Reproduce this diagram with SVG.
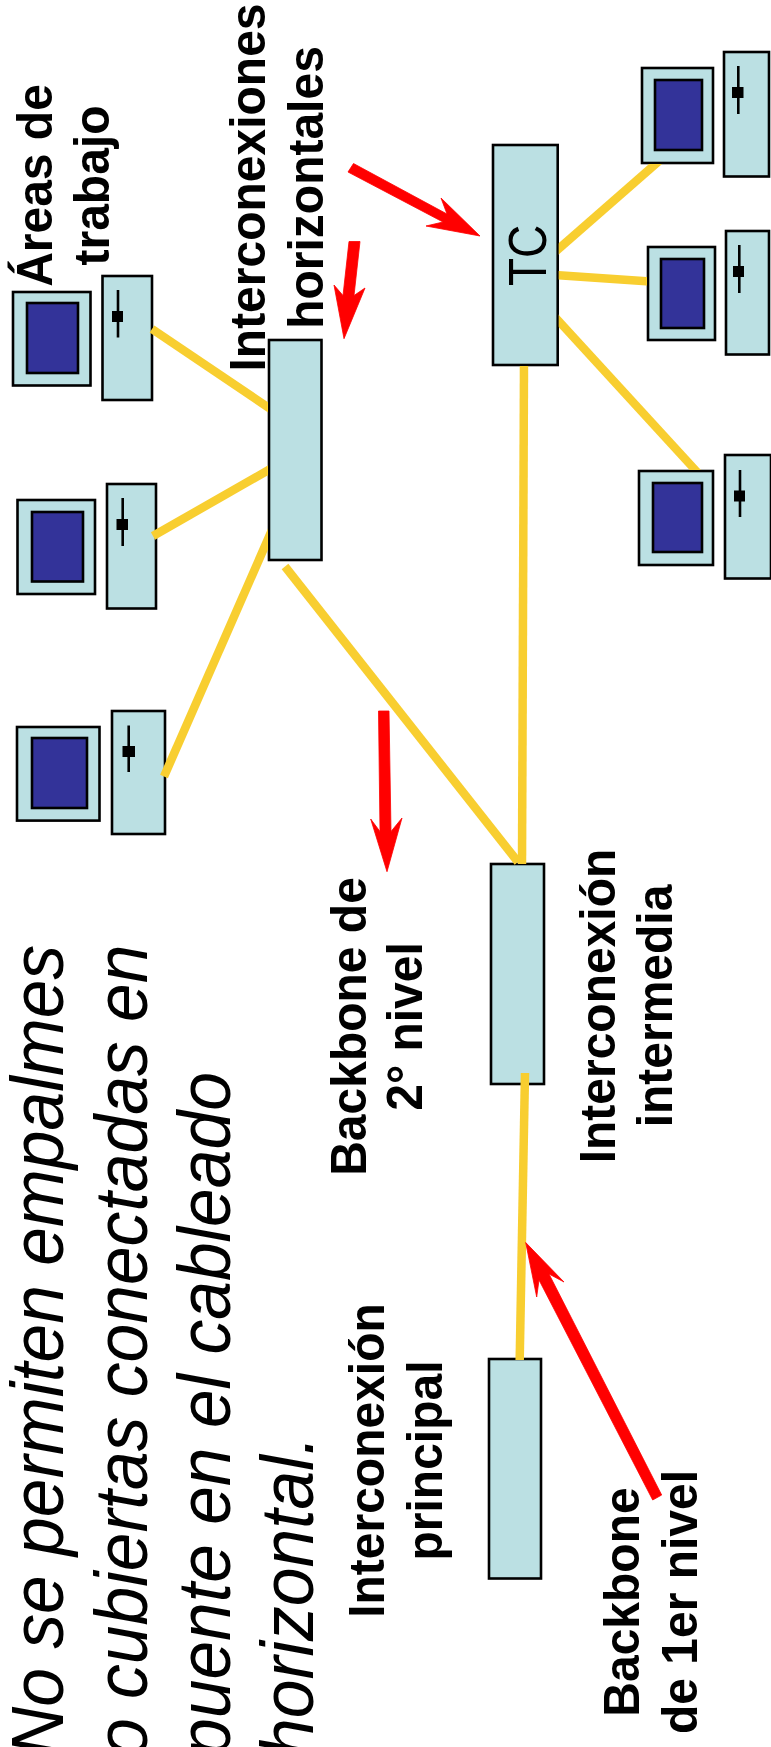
<svg xmlns="http://www.w3.org/2000/svg" width="771" height="1747" viewBox="0 0 771 1747">
<style>
text{font-family:"Liberation Sans",Arial,sans-serif;fill:#000}
.b{font-weight:700;font-size:48px;text-anchor:middle}
.i{font-style:italic;font-size:69.600px}
.n{fill:#bbe0e3;stroke:#000;stroke-width:2.600}
.s{fill:#333399;stroke:#000;stroke-width:2.600}
.w{stroke:#000;stroke-width:2.600}
.c{stroke:#f8ce30;stroke-width:8.500;fill:none}
.a{fill:#ff0000;stroke:#ff0000;stroke-width:0.800}
</style>
<defs>
<clipPath id="outside"><path clip-rule="evenodd" d="M0 0H771V1747H0ZM268 339H322.500V561H268ZM492 144H558.700V366H492ZM641 67H714V164H641ZM647 246H716V341H647ZM638 470H714V566H638Z"/></clipPath>
</defs>
<g id="pc1"><rect class="n" x="13" y="292" width="77.500" height="93.500"/><rect class="s" x="27" y="303" width="51" height="70"/><rect class="n" x="102.500" y="276" width="49.500" height="124"/><path class="w" d="M118 290V337.500"/><rect x="112" y="311" width="11" height="11"/></g>
<g id="pc2"><rect class="n" x="17.500" y="500" width="77.500" height="94"/><rect class="s" x="32" y="512" width="51" height="69.500"/><rect class="n" x="107" y="484" width="49" height="124.500"/><path class="w" d="M122.700 498V546"/><rect x="116.500" y="519" width="11.500" height="11"/></g>
<g id="pc3"><rect class="n" x="17" y="727" width="82.500" height="93.600"/><rect class="s" x="32" y="738" width="55" height="70"/><rect class="n" x="112" y="711" width="53" height="123"/><path class="w" d="M128.700 725.500V772"/><rect x="122.500" y="746" width="12.500" height="11"/></g>
<g id="pc4"><rect class="n" x="642" y="68" width="71" height="95"/><rect class="s" x="655" y="80" width="47" height="70"/><rect class="n" x="724" y="52" width="45" height="124.500"/><path class="w" d="M738.300 66V114"/><rect x="732" y="87" width="11.500" height="11"/></g>
<g id="pc5"><rect class="n" x="648" y="247" width="67" height="93"/><rect class="s" x="661" y="259" width="43" height="69"/><rect class="n" x="726" y="231" width="43" height="123.500"/><path class="w" d="M739.300 245V293"/><rect x="733" y="266" width="11" height="11"/></g>
<g id="pc6"><rect class="n" x="639" y="471" width="74" height="94"/><rect class="s" x="653" y="483" width="49" height="69"/><rect class="n" x="725" y="455" width="46" height="123.500"/><path class="w" d="M740 470V517"/><rect x="734" y="490.500" width="11" height="11"/></g>
<g id="hub-horizontal"><rect class="n" x="269" y="340" width="52.500" height="220"/></g>
<g id="tc"><rect class="n" x="493" y="145" width="64.700" height="220"/><text transform="translate(546 286) rotate(-90) scale(1 1.150)" style="font-size:46px">TC</text></g>
<g id="hub-intermedia"><rect class="n" x="491" y="864" width="53" height="220"/></g>
<g id="hub-principal"><rect class="n" x="489" y="1359" width="52" height="219.500"/></g>
<g id="connectors">
<g clip-path="url(#outside)">
<line class="c" x1="152" y1="329" x2="272" y2="410"/>
<line class="c" x1="153" y1="536" x2="272" y2="468"/>
<line class="c" x1="164" y1="776.500" x2="272" y2="530"/>
<line class="c" x1="555" y1="252" x2="659" y2="161"/>
<line class="c" x1="555" y1="275" x2="650" y2="281.500"/>
<line class="c" x1="555" y1="317" x2="698" y2="473"/>
<line class="c" x1="524" y1="360" x2="522" y2="864"/>
</g>
<line class="c" x1="285" y1="566.500" x2="518" y2="862"/>
<line class="c" x1="525" y1="1073" x2="519.700" y2="1360"/>
<polygon class="a" points="353.500,163.500 447,214 441,198 480,236 426,226 443,222 348,172"/>
<polygon class="a" points="349,241.500 360,241.500 354,295.500 365,288 344,338.700 334,285 343,295.500"/>
<polygon class="a" points="378.500,711 389,711 391,831.500 402,818 387,871.700 370.700,819 380,831.500"/>
<polygon class="a" points="661.700,1495 652.700,1500 539,1280 536.700,1297 525.700,1242.500 564,1282 549,1274"/>
</g>
<g id="labels">
<text class="b" transform="translate(51.700 185.500) rotate(-90) scale(1 1.050)">Áreas de</text>
<text class="b" transform="translate(109 185.500) rotate(-90) scale(1 1.050)">trabajo</text>
<text class="b" transform="translate(265 187.500) rotate(-90) scale(1 1.050)">Interconexiones</text>
<text class="b" transform="translate(323 187.500) rotate(-90) scale(1 1.050)">horizontales</text>
<text class="b" transform="translate(365.700 1026.500) rotate(-90) scale(1 1.050)">Backbone de</text>
<text class="b" transform="translate(422 1026.500) rotate(-90) scale(1 1.050)">2° nivel</text>
<text class="b" transform="translate(615 1006) rotate(-90) scale(1 1.050)">Interconexión</text>
<text class="b" transform="translate(672 1006) rotate(-90) scale(1 1.050)">intermedia</text>
<text class="b" transform="translate(384 1460.500) rotate(-90) scale(1 1.050)">Interconexión</text>
<text class="b" transform="translate(442 1460.500) rotate(-90) scale(1 1.050)">principal</text>
<text class="b" transform="translate(639 1602) rotate(-90) scale(1 1.050)">Backbone</text>
<text class="b" transform="translate(696.700 1602) rotate(-90) scale(1 1.050)">de 1er nivel</text>
<text class="i" transform="translate(63 1757) rotate(-90) scale(1 1.060)">No se permiten empalmes</text>
<text class="i" transform="translate(146.700 1757) rotate(-90) scale(1 1.060)">o cubiertas conectadas en</text>
<text class="i" transform="translate(230 1757) rotate(-90) scale(1 1.060)">puente en el cableado</text>
<text class="i" transform="translate(313 1757) rotate(-90) scale(1 1.060)">horizontal.</text>
</g>
</svg>
